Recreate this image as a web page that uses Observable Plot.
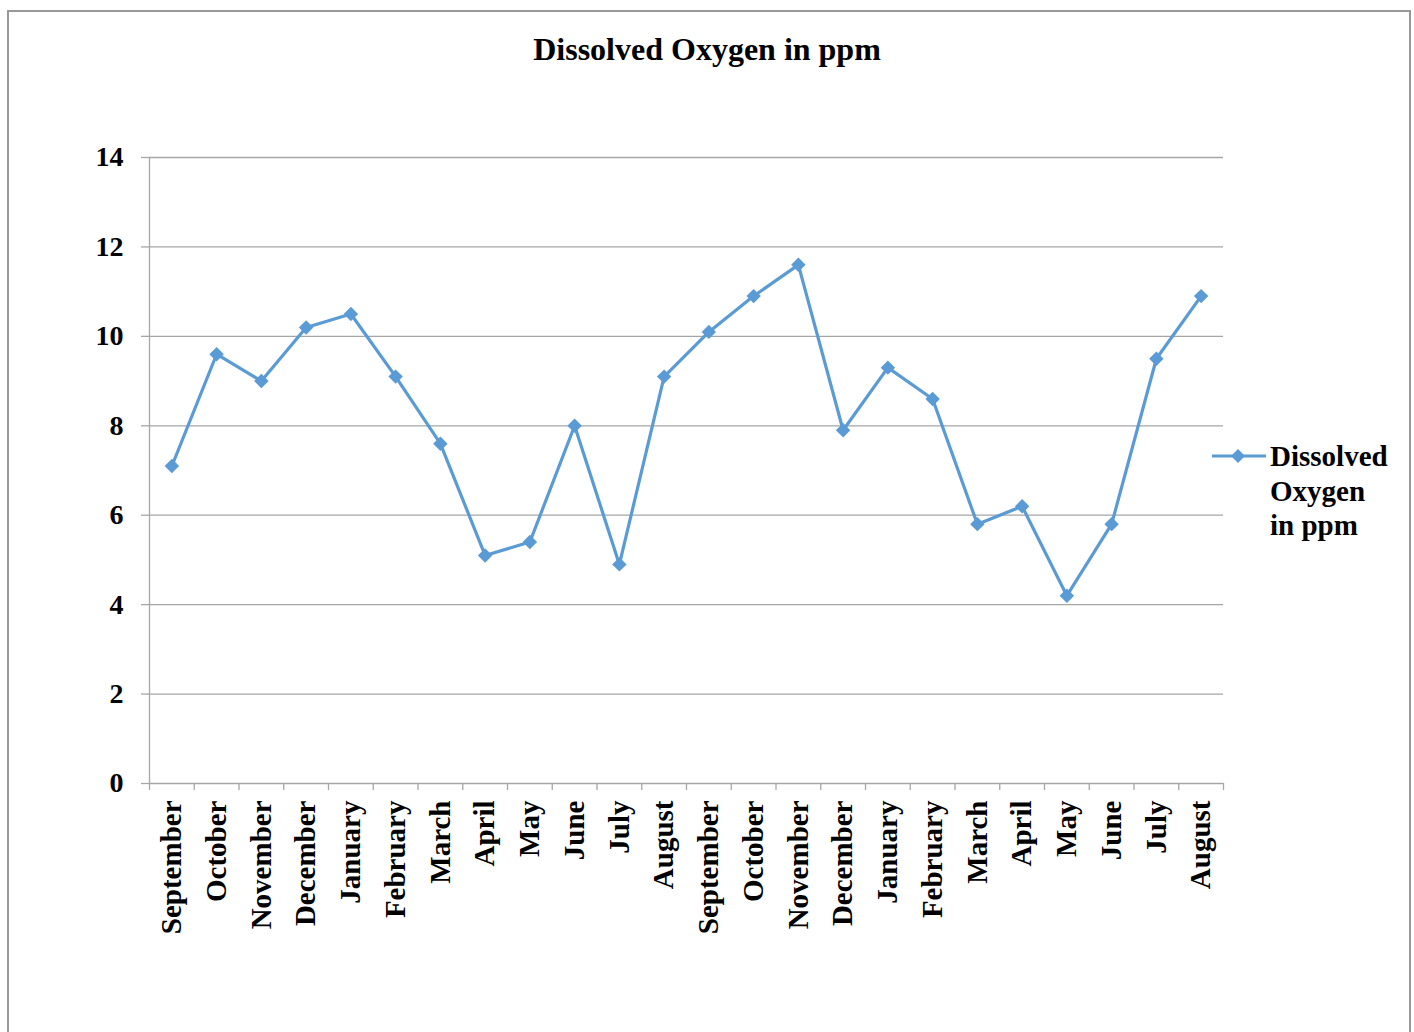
<!DOCTYPE html>
<html>
<head>
<meta charset="utf-8">
<script src="https://cdn.jsdelivr.net/npm/d3@7"></script>
<script src="https://cdn.jsdelivr.net/npm/@observablehq/plot@0.6"></script>
<style>
  html, body { margin: 0; padding: 0; background: #fff; overflow: hidden; }
  #page { position: relative; width: 1414px; height: 1032px; font-family: "Liberation Serif", "Times New Roman", serif; }
  #frame { position: absolute; left: 7px; top: 10px; width: 1404px; height: 1100px; border: 2px solid #999; box-sizing: border-box; }
  #title { position: absolute; left: 0; width: 1414px; top: 31px; text-align: center; font-weight: bold; font-size: 32px; color: #000; }
  #chart { position: absolute; left: 0; top: 0; }
  #legend { position: absolute; left: 1210px; top: 438px; }
  #legend .txt { position: absolute; left: 60px; top: 1px; font-weight: bold; font-size: 29px; line-height: 34.5px; color: #000; white-space: nowrap; }
</style>
</head>
<body>
<div id="page">
  <div id="frame"></div>
  <div id="title">Dissolved Oxygen in ppm</div>
  <div id="chart"></div>
  <div id="legend">
    <svg width="60" height="40" style="position:absolute;left:0;top:0">
      <line x1="2" y1="18" x2="56" y2="18" stroke="#5B9BD5" stroke-width="3"></line>
      <path d="M28,11 L35,18 L28,25 L21,18 Z" fill="#5B9BD5"></path>
    </svg>
    <div class="txt">Dissolved<br>Oxygen<br>in ppm</div>
  </div>
</div>
<script>
const months = ["September","October","November","December","January","February","March","April","May","June","July","August",
                "September","October","November","December","January","February","March","April","May","June","July","August"];
const oxygen = [7.1, 9.6, 9.0, 10.2, 10.5, 9.1, 7.6, 5.1, 5.4, 8.0, 4.9, 9.1,
                10.1, 10.9, 11.6, 7.9, 9.3, 8.6, 5.8, 6.2, 4.2, 5.8, 9.5, 10.9];
const yTicks = [0, 2, 4, 6, 8, 10, 12, 14];

const data = months.map((m, i) => ({i: i + 0.5, month: m, value: oxygen[i]}));
const boundaries = d3.range(months.length + 1);
const centers = d3.range(months.length).map(i => i + 0.5);
const color = "#5B9BD5";
const gridColor = "#a6a6a6";

const plot = Plot.plot({
  width: 1414,
  height: 1032,
  marginLeft: 149,
  marginRight: 191,
  marginTop: 157,
  marginBottom: 249,
  style: {fontFamily: "'Liberation Serif', 'Times New Roman', serif", background: "transparent", color: "#000"},
  x: {type: "linear", domain: [0, months.length], axis: null},
  y: {type: "linear", domain: [0, 14], axis: null},
  marks: [
    Plot.ruleY(yTicks.filter(d => d > 0), {stroke: gridColor, strokeWidth: 1.3}),
    Plot.ruleY([0], {stroke: gridColor, strokeWidth: 1.3}),
    Plot.ruleX([0], {stroke: gridColor, strokeWidth: 1.3}),
    Plot.axisY({ticks: yTicks, tickSize: 8, tickPadding: 18, stroke: gridColor, strokeWidth: 1.3,
                fontSize: 28, fontWeight: "bold", fill: "#000", label: null}),
    Plot.axisX({ticks: boundaries, tickSize: 7, tickFormat: () => "", stroke: gridColor, strokeWidth: 1.3, label: null}),
    Plot.axisX({ticks: centers, tickSize: 0, tickPadding: 17, tickRotate: -90,
                tickFormat: d => months[Math.floor(d)], fontSize: 29, fontWeight: "bold", fill: "#000", label: null}),
    Plot.line(data, {x: "i", y: "value", stroke: color, strokeWidth: 3.2}),
    Plot.dot(data, {x: "i", y: "value", symbol: "diamond2", r: 6.5, fill: color, stroke: "none"})
  ]
});
document.getElementById("chart").appendChild(plot);
</script>
</body>
</html>
